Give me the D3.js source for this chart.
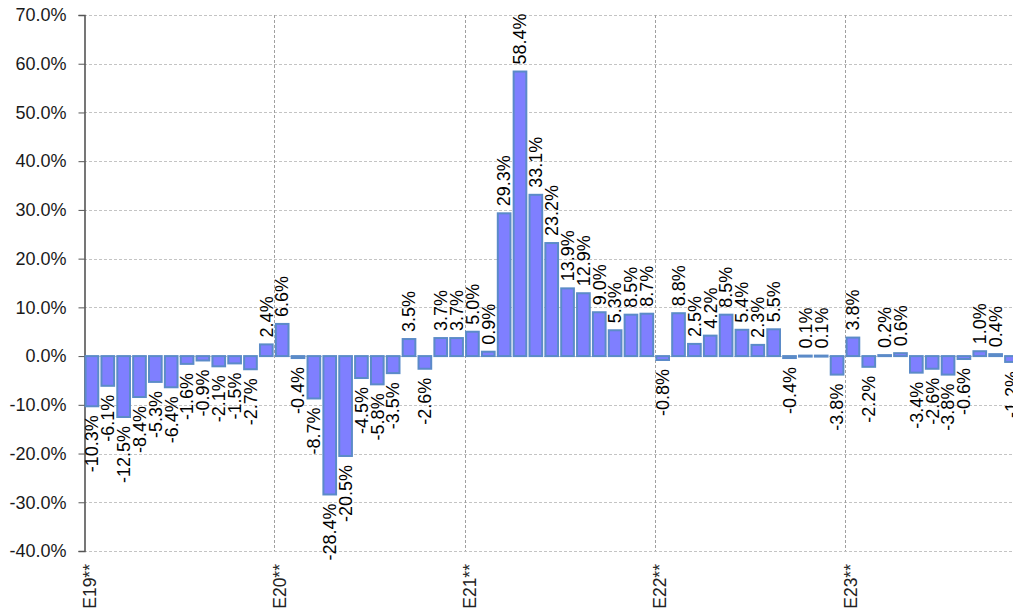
<!DOCTYPE html>
<html>
<head>
<meta charset="utf-8">
<script src="https://cdn.jsdelivr.net/npm/d3@7"></script>
<style>
  body { margin: 0; background: #fff; }
  svg { display: block; font-family: "Liberation Sans", Arial, sans-serif; }
</style>
</head>
<body>
<div id="chart"></div>
<script>
// year labels on the x axis (one per 12 months)
var years = ["E19**", "E20**", "E21**", "E22**", "E23**"];

// monthly change, %, Jan 2019 .. Nov 2023
var values = [
  -10.3, -6.1, -12.5, -8.4, -5.3, -6.4, -1.6, -0.9, -2.1, -1.5, -2.7, 2.4,
  6.6, -0.4, -8.7, -28.4, -20.5, -4.5, -5.8, -3.5, 3.5, -2.6, 3.7, 3.7,
  5.0, 0.9, 29.3, 58.4, 33.1, 23.2, 13.9, 12.9, 9.0, 5.3, 8.5, 8.7,
  -0.8, 8.8, 2.5, 4.2, 8.5, 5.4, 2.3, 5.5, -0.4, 0.1, 0.1, -3.8,
  3.8, -2.2, 0.2, 0.6, -3.4, -2.6, -3.8, -0.6, 1.0, 0.4, -1.2
];

var yTicks = [-40, -30, -20, -10, 0, 10, 20, 30, 40, 50, 60, 70];

var width = 1013,
    height = 612;
var plotLeft = 84, plotTop = 15, plotBottom = 551;
var nMonths = 60;
var stepPx = (845 - 84) / 48;
var plotRight = plotLeft + stepPx * nMonths;

var svg = d3.select("#chart")
    .append("svg")
    .attr("width", width)
    .attr("height", height);

var y = d3.scaleLinear()
    .domain([-40, 70])
    .range([plotBottom, plotTop]);

var monthX = d3.scaleLinear()
    .domain([0, nMonths])
    .range([plotLeft, plotRight]);

var x = d3.scaleBand()
    .domain(d3.range(nMonths))
    .range([plotLeft, plotRight])
    .paddingInner(0.2)
    .paddingOuter(0.1);

// horizontal grid
svg.append("g")
  .selectAll("line")
  .data(yTicks)
  .enter()
  .append("line")
  .attr("x1", plotLeft)
  .attr("x2", width)
  .attr("y1", function(d){ return Math.round(y(d)) + 0.5; })
  .attr("y2", function(d){ return Math.round(y(d)) + 0.5; })
  .attr("stroke", "#c4c4c4")
  .attr("stroke-dasharray", "3,2");

// vertical year grid
svg.append("g")
  .selectAll("line")
  .data(years.slice(1))
  .enter()
  .append("line")
  .attr("x1", function(d, i){ return Math.round(monthX((i + 1) * 12)) + 0.5; })
  .attr("x2", function(d, i){ return Math.round(monthX((i + 1) * 12)) + 0.5; })
  .attr("y1", plotTop)
  .attr("y2", plotBottom)
  .attr("stroke", "#a0a0a0")
  .attr("stroke-dasharray", "3,2");

// y axis
var yAxis = d3.axisLeft(y)
    .tickValues(yTicks)
    .tickSize(6)
    .tickPadding(12)
    .tickFormat(function(d){ return d.toFixed(1) + "%"; });

var gy = svg.append("g")
    .attr("transform", "translate(" + (plotLeft + 0.5) + ",0)")
    .call(yAxis);
gy.select(".domain").attr("stroke", "#555").attr("stroke-width", 1.6);
gy.selectAll(".tick line").attr("stroke", "#555");
gy.selectAll(".tick text")
  .attr("fill", "#1a1a1a")
  .style("font-size", "18px")
  .style("font-family", "'Liberation Sans', Arial, sans-serif");

// bars
svg.append("g")
  .selectAll("rect")
  .data(values)
  .enter()
  .append("rect")
  .attr("x", function(d, i){ return x(i); })
  .attr("width", x.bandwidth())
  .attr("y", function(d){ return Math.min(y(d), y(0)); })
  .attr("height", function(d){ return Math.max(Math.abs(y(d) - y(0)), 1); })
  .attr("fill", "#7f7fff")
  .attr("stroke", "#5b8bc8")
  .attr("stroke-width", 2);

// value labels, rotated
svg.append("g")
  .selectAll("text")
  .data(values)
  .enter()
  .append("text")
  .attr("transform", function(d, i){
    var cx = x(i) + x.bandwidth() / 2;
    var cy = d >= 0 ? y(d) - 7 : y(d) + 9;
    return "translate(" + cx + "," + cy + ") rotate(-90)";
  })
  .attr("dy", "0.35em")
  .attr("text-anchor", function(d){ return d >= 0 ? "start" : "end"; })
  .attr("fill", "#000")
  .style("font-size", "18px")
  .text(function(d){ return d.toFixed(1) + "%"; });

// year labels
svg.append("g")
  .selectAll("text")
  .data(years)
  .enter()
  .append("text")
  .attr("transform", function(d, i){
    return "translate(" + (monthX(i * 12) + 5.5) + "," + 564 + ") rotate(-90)";
  })
  .attr("dy", "0.35em")
  .attr("text-anchor", "end")
  .attr("fill", "#222")
  .style("font-size", "17.5px")
  .text(function(d){ return d; });
</script>
</body>
</html>
